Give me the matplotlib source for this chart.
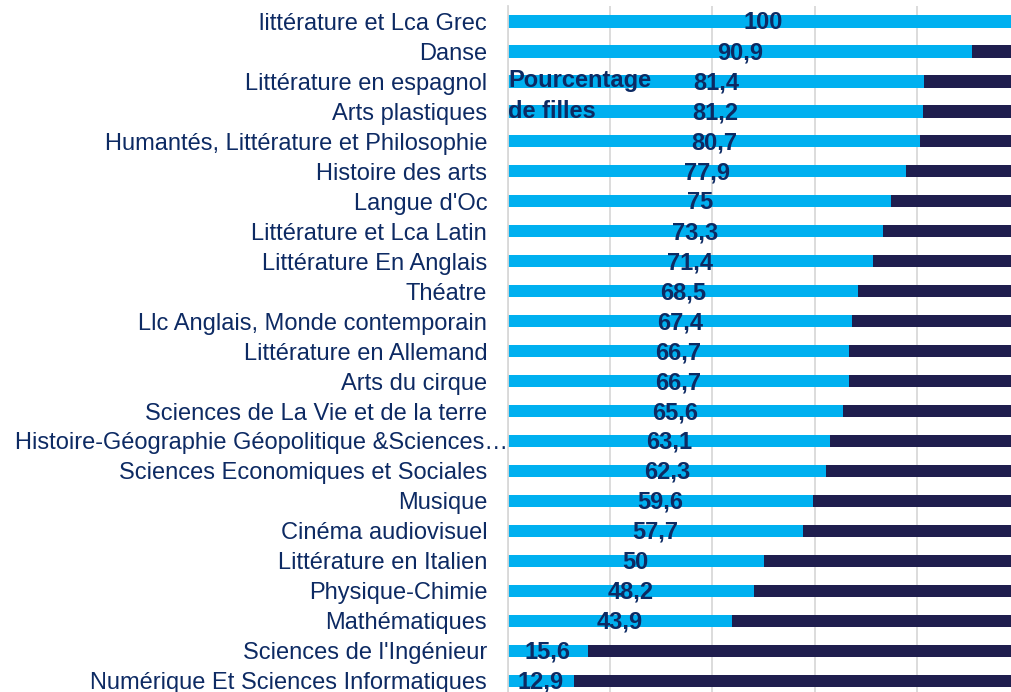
import matplotlib.pyplot as plt
from matplotlib.transforms import ScaledTranslation

# subjects, top to bottom
subjects = [
    "littérature et Lca Grec",
    "Danse",
    "Littérature en espagnol",
    "Arts plastiques",
    "Humantés, Littérature et Philosophie",
    "Histoire des arts",
    "Langue d'Oc",
    "Littérature et Lca Latin",
    "Littérature En Anglais",
    "Théatre",
    "Llc Anglais, Monde contemporain",
    "Littérature en Allemand",
    "Arts du cirque",
    "Sciences de La Vie et de la terre",
    "Histoire-Géographie Géopolitique &Sciences…",
    "Sciences Economiques et Sociales",
    "Musique",
    "Cinéma audiovisuel",
    "Littérature en Italien",
    "Physique-Chimie",
    "Mathématiques",
    "Sciences de l'Ingénieur",
    "Numérique Et Sciences Informatiques",
]
girls = [100, 90.9, 81.4, 81.2, 80.7, 77.9, 75, 73.3, 71.4, 68.5, 67.4, 66.7,
         66.7, 65.6, 63.1, 62.3, 59.6, 57.7, 50, 48.2, 43.9, 15.6, 12.9]
boys = [100 - g for g in girls]

BLUE = "#00B0F0"
DARK = "#1F1E4E"
TEXT = "#0D2A63"
FS = 17

plt.rcParams['font.family'] = ['Liberation Sans', 'DejaVu Sans']

fig = plt.figure(figsize=(10.11, 6.92), dpi=100)
ax = fig.add_axes([0.5025, -0.0055, 0.5054, 0.9964])

y = list(range(len(subjects)))
ax.barh(y, girls, height=0.42, color=BLUE, zorder=2)
ax.barh(y, boys, left=girls, height=0.42, color=DARK, zorder=2)

for yi, g in zip(y, girls):
    lab = f"{g:g}".replace(".", ",")
    ax.text(g / 2, yi + 0.05, lab, ha="center", va="center", fontsize=FS,
            fontweight="bold", color=TEXT, zorder=3)

ax.text(0, 2.5, "Pourcentage\nde filles", ha="left", va="center", fontsize=FS,
        fontweight="bold", color=TEXT, linespacing=1.42, zorder=4)

ax.set_xlim(0, 100)
ax.set_ylim(len(subjects) - 0.5, -0.5)
ax.set_xticks([0, 20, 40, 60, 80, 100])
ax.tick_params(axis="x", length=0, labelbottom=False)
ax.grid(axis="x", color="#D9D9D9", linewidth=1.3, zorder=0)
ax.set_yticks(y)
ax.set_yticklabels(subjects, fontsize=FS, color=TEXT)
ax.tick_params(axis="y", length=0, pad=15)
for s in ["top", "right", "bottom"]:
    ax.spines[s].set_visible(False)
ax.spines["left"].set_color("#D9D9D9")
ax.spines["left"].set_linewidth(1.3)

# the truncated label sits further right, as in the original
long_lab = ax.get_yticklabels()[14]
long_lab.set_transform(long_lab.get_transform() + ScaledTranslation(21 / 100, 0, fig.dpi_scale_trans))

fig.savefig("out.png", dpi=100)
